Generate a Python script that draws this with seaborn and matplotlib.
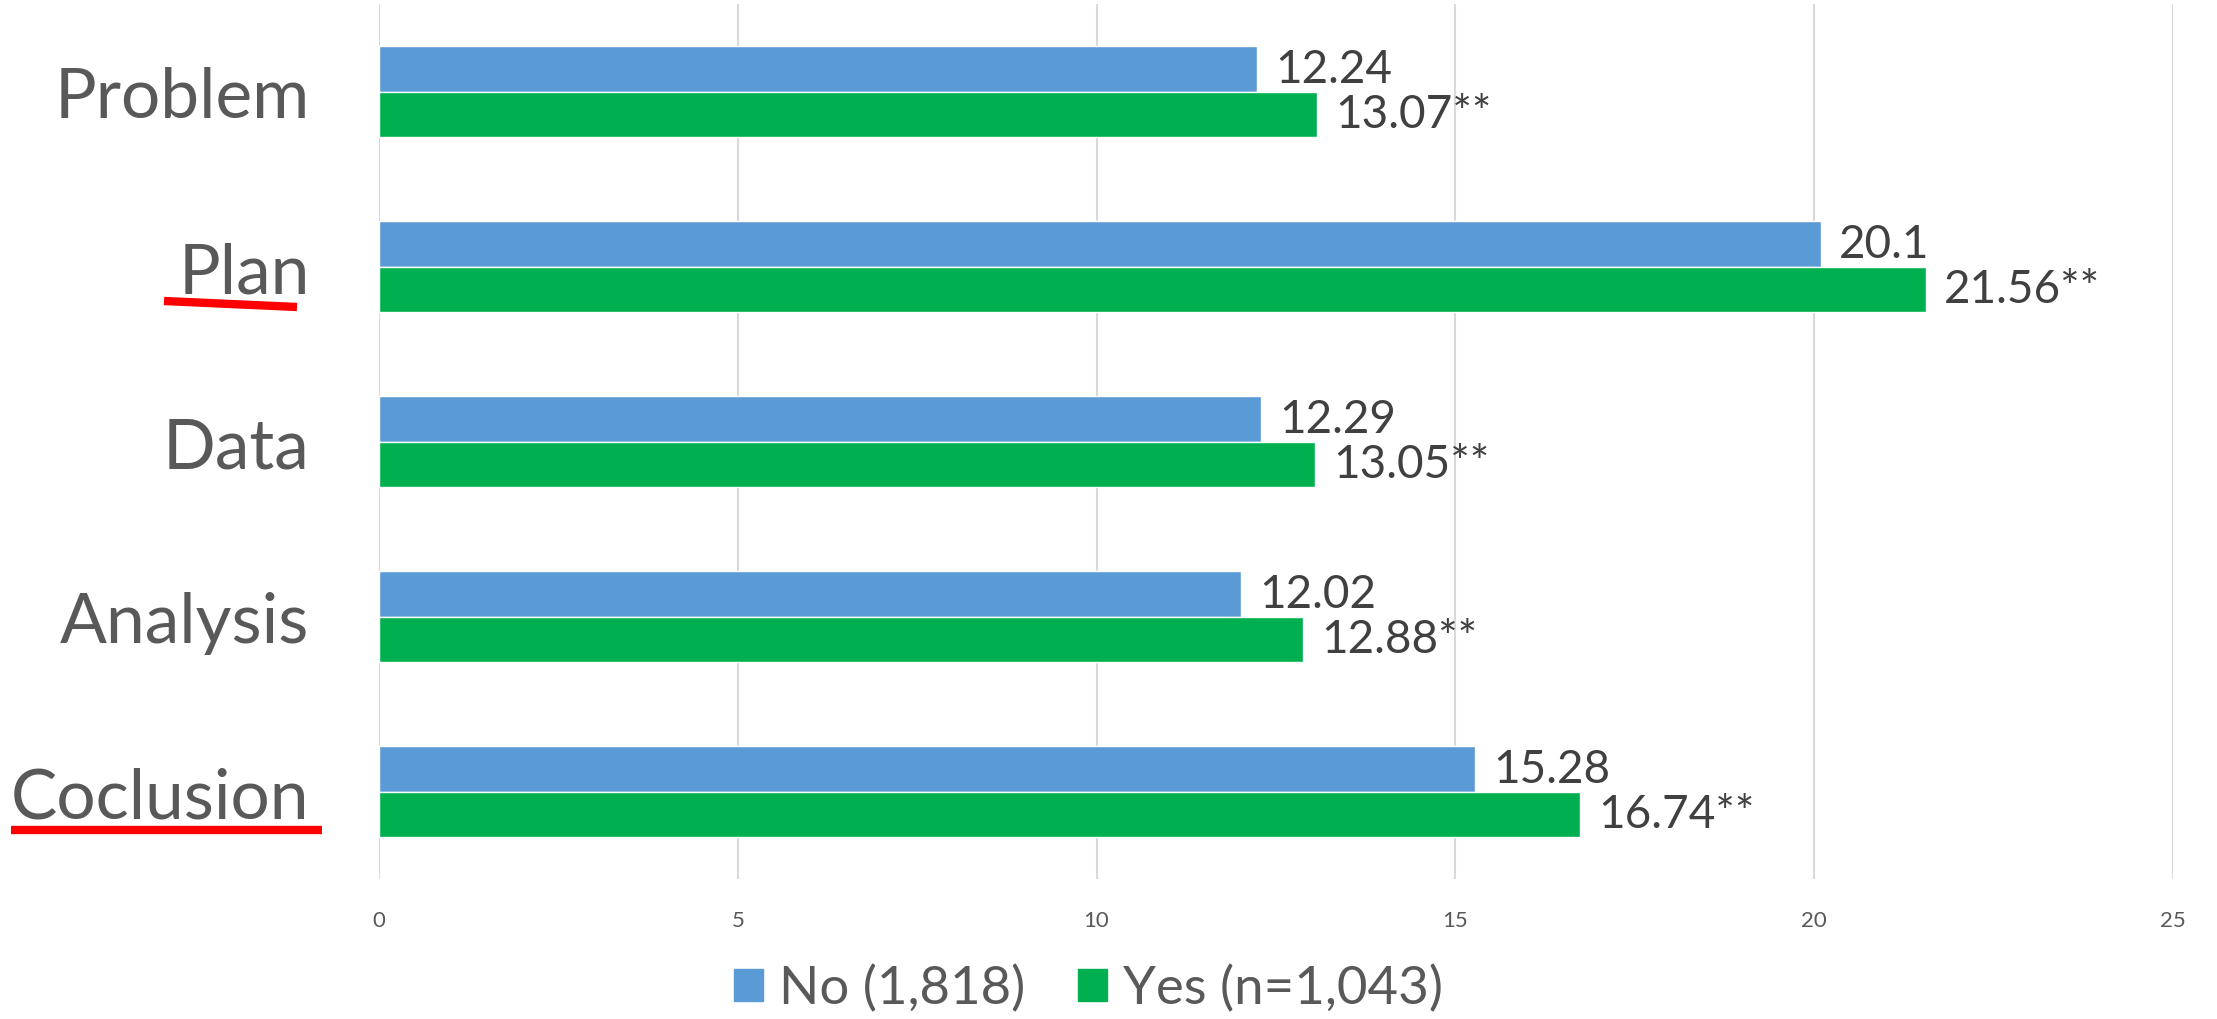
import pandas as pd
import matplotlib
matplotlib.use("Agg")
import matplotlib.pyplot as plt
import seaborn as sns
from matplotlib.lines import Line2D

categories = ["Problem", "Plan", "Data", "Analysis", "Coclusion"]
no_values = [12.24, 20.1, 12.29, 12.02, 15.28]
yes_values = [13.07, 21.56, 13.05, 12.88, 16.74]
no_labels = ["12.24", "20.1", "12.29", "12.02", "15.28"]
yes_labels = ["13.07**", "21.56**", "13.05**", "12.88**", "16.74**"]
groups = ["No (1,818)", "Yes (n=1,043)"]
x_ticks = [0, 5, 10, 15, 20, 25]

BLUE = "#5B9BD5"
GREEN = "#00B050"


def main():
    df = pd.DataFrame({
        "category": categories * 2,
        "value": no_values + yes_values,
        "group": [groups[0]] * len(categories) + [groups[1]] * len(categories),
    })

    sns.set_style("white")
    plt.rcParams["font.family"] = ["Lato", "DejaVu Sans"]

    fig = plt.figure(figsize=(22.17, 10.2), dpi=100)
    ax = fig.add_axes([0.171, 0.137, 0.809, 0.858])

    sns.barplot(
        data=df, y="category", x="value", hue="group", orient="h",
        palette=[BLUE, GREEN], saturation=1, width=0.52, gap=0, ax=ax,
        order=categories, hue_order=groups, legend=True,
    )

    for container, labels in zip(ax.containers, [no_labels, yes_labels]):
        ax.bar_label(container, labels=labels, padding=13,
                     fontsize=33, color="#404040")

    ax.set_xlim(0, 25)
    ax.set_ylim(4.5, -0.5)
    ax.set_xticks(x_ticks)
    ax.grid(axis="x", color="#D9D9D9", linewidth=1.5)
    ax.set_axisbelow(True)
    for s in ax.spines.values():
        s.set_visible(False)
    ax.tick_params(axis="x", labelsize=16, colors="#595959", length=0, pad=22)
    ax.tick_params(axis="y", labelsize=50, colors="#595959", length=0, pad=50)
    ax.set_xlabel("")
    ax.set_ylabel("")

    ax.get_legend().remove()
    handles = [plt.Rectangle((0, 0), 1, 1, color=c) for c in [BLUE, GREEN]]
    fig.legend(handles, groups, loc="center", bbox_to_anchor=(0.491, 0.03),
               ncol=2, frameon=False, fontsize=38, labelcolor="#595959",
               handlelength=0.55, handleheight=0.55, handletextpad=0.3,
               columnspacing=1.0)

    # red underlines drawn over the labels
    W, H = 2217, 1020
    for (x0, y0), (x1, y1) in [((164, 302), (297, 308)), ((11, 831), (322, 831))]:
        fig.add_artist(Line2D([x0 / W, x1 / W], [1 - y0 / H, 1 - y1 / H],
                              transform=fig.transFigure, color="#FF0000",
                              linewidth=6, solid_capstyle="butt"))

    fig.savefig("out.png", dpi=100)


if __name__ == "__main__":
    main()
